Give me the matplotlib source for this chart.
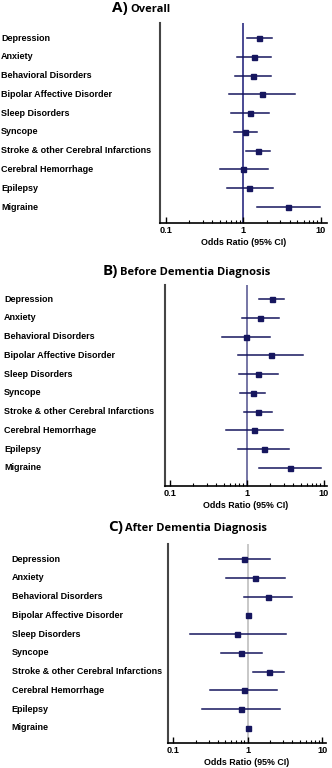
import numpy as np
import matplotlib
matplotlib.use('Agg')
import matplotlib.pyplot as plt
import matplotlib.transforms as mtransforms
from matplotlib.ticker import FixedLocator, NullFormatter

conditions = ['Depression', 'Anxiety', 'Behavioral Disorders', 'Bipolar Affective Disorder',
              'Sleep Disorders', 'Syncope', 'Stroke & other Cerebral Infarctions',
              'Cerebral Hemorrhage', 'Epilepsy', 'Migraine']

# A) Overall
or_all = [1.60, 1.38, 1.32, 1.75, 1.22, 1.06, 1.54, 1.00, 1.20, 3.75]
lo_all = [1.13, 0.84, 0.79, 0.66, 0.70, 0.76, 1.10, 0.50, 0.61, 1.49]
hi_all = [2.34, 2.27, 2.25, 4.67, 2.16, 1.51, 2.20, 2.06, 2.41, 9.70]

# B) Before dementia diagnosis
or_before = [2.12, 1.49, 0.96, 2.04, 1.41, 1.19, 1.39, 1.25, 1.67, 3.60]
lo_before = [1.45, 0.86, 0.47, 0.76, 0.78, 0.81, 0.91, 0.53, 0.76, 1.45]
hi_before = [3.07, 2.59, 1.98, 5.37, 2.51, 1.73, 2.10, 2.98, 3.57, 9.23]

# C) After dementia diagnosis (no CI shown for bipolar / migraine)
or_after = [0.88, 1.24, 1.87, 1.00, 0.72, 0.80, 1.91, 0.88, 0.81, 1.00]
lo_after = [0.41, 0.51, 0.90, np.nan, 0.167, 0.43, 1.19, 0.31, 0.24, np.nan]
hi_after = [1.99, 3.18, 3.90, np.nan, 3.24, 1.54, 3.08, 2.51, 2.73, np.nan]

W, H = 332, 768
fig = plt.figure(figsize=(W / 100, H / 100), dpi=100)
navy = '#16165e'
lab_font = 'Liberation Sans'


def px_axes(left, right, top, bottom):
    return fig.add_axes([left / W, 1 - bottom / H, (right - left) / W, (bottom - top) / H])


def panel(box, xlim, ylim, ors, los, his, refcol, label_x, letter, title, title_x, title_y):
    ax = px_axes(*box)
    y = np.arange(len(conditions))
    ax.axvline(1, color=refcol, lw=1.3, zorder=1)
    for i in range(len(conditions)):
        if not np.isnan(los[i]):
            ax.plot([los[i], his[i]], [y[i], y[i]], color=navy, lw=1.1, zorder=2)
    ax.plot(ors, y, 's', color=navy, ms=3.6, zorder=3)
    ax.set_xscale('log')
    ax.set_xlim(*xlim)
    ax.set_ylim(*ylim)
    ax.set_yticks([])
    ax.xaxis.set_major_locator(FixedLocator([0.1, 1, 10]))
    ax.xaxis.set_minor_locator(FixedLocator([k * d for d in (0.1, 1) for k in range(2, 10)]))
    ax.xaxis.set_minor_formatter(NullFormatter())
    ax.set_xticklabels(['0.1', '1', '10'], fontsize=6.6, fontweight='bold', family=lab_font)
    ax.tick_params(axis='x', which='major', direction='in', length=4, width=1, pad=2.2)
    ax.tick_params(axis='x', which='minor', direction='in', length=2.5, width=0.8)
    ax.set_xlabel('Odds Ratio (95% CI)', fontsize=6.4, fontweight='bold',
                  family=lab_font, labelpad=2)
    for s in ('top', 'right'):
        ax.spines[s].set_visible(False)
    ax.spines['left'].set_color('#454545')
    ax.spines['left'].set_linewidth(1.5)
    ax.spines['bottom'].set_linewidth(1.2)

    tr = mtransforms.blended_transform_factory(fig.transFigure, ax.transData)
    for i, name in enumerate(conditions):
        ax.text(label_x / W, y[i], name, transform=tr, ha='left', va='center',
                fontsize=6.5, fontweight='bold', family=lab_font, clip_on=False)

    fig.text(title_x / W, 1 - title_y / H, letter, ha='right', va='center',
             fontsize=11, fontweight='bold', family='Open Sans')
    fig.text((title_x + 2) / W, 1 - (title_y + 1) / H, title, ha='left', va='center',
             fontsize=8, fontweight='bold', family='Open Sans')
    return ax


panel((160, 327, 23, 223), (0.0845, 12.0), (9.85, -0.8), or_all, lo_all, hi_all,
      '#3a3a8a', 1, 'A)', 'Overall', 128, 8)
panel((165, 327, 285, 486), (0.086, 11.0), (9.96, -0.75), or_before, lo_before, hi_before,
      '#6a6a9e', 4, 'B)', 'Before Dementia Diagnosis', 118, 271)
panel((168, 326, 544, 743), (0.0845, 11.3), (9.8, -0.8), or_after, lo_after, hi_after,
      '#c4c4c4', 11.5, 'C)', 'After Dementia Diagnosis', 123, 527)

fig.savefig('out.png', dpi=100)
